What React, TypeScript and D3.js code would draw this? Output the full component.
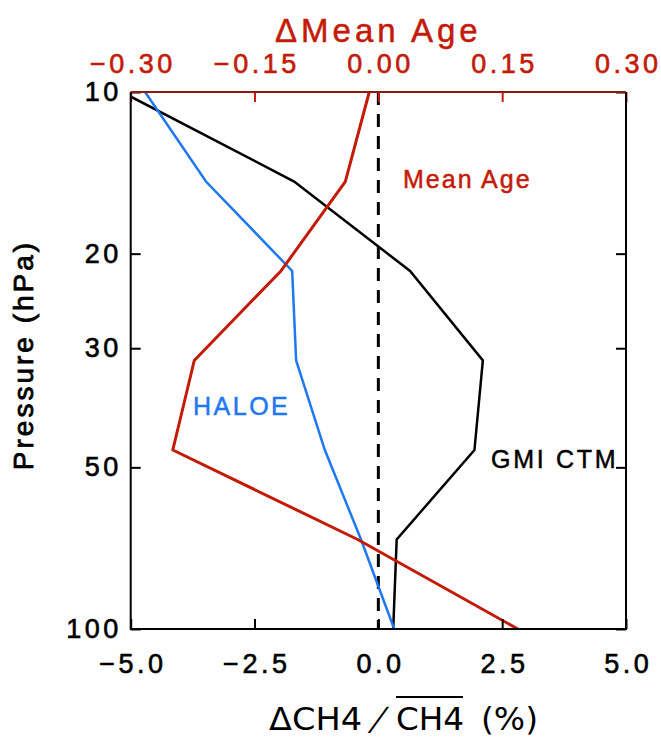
import React, { useRef, useEffect } from 'react';
import * as d3 from 'd3';

// pressure levels (hPa) and the three profiles
const levels = [10, 14.68, 21.54, 31.62, 46.42, 68.13, 100];
const gmiCtm = [-5.18, -1.70, 0.64, 2.11, 1.94, 0.37, 0.30];
const haloe = [-4.71, -3.48, -1.74, -1.66, -1.08, -0.35, 0.32];
const meanAge = [-0.011, -0.040, -0.118, -0.223, -0.249, -0.025, 0.169];

const pressureTicks = [10, 20, 30, 50, 100];
const ch4Ticks = [-5, -2.5, 0, 2.5, 5];
const ageTicks = [-0.3, -0.15, 0, 0.15, 0.3];

const W = 661, H = 739;
const left = 130.7, right = 626, top = 92, bottom = 629;
const RED = '#c41a08';
const BLUE = '#1f78f0';
const FONT = 'Liberation Sans, Arial, sans-serif';

export default function App() {
  const ref = useRef<SVGSVGElement>(null);

  useEffect(() => {
    const svg = d3.select(ref.current);
    svg.selectAll('*').remove();

    const x = d3.scaleLinear().domain([-5, 5]).range([left, right]);
    const xAge = d3.scaleLinear().domain([-0.3, 0.3]).range([left, right]);
    const y = d3.scaleLog().domain([10, 100]).range([top, bottom]);

    svg.append('clipPath').attr('id', 'plotclip')
      .append('rect').attr('x', left).attr('y', top - 1)
      .attr('width', right - left).attr('height', bottom - top + 1);

    const plot = svg.append('g').attr('clip-path', 'url(#plotclip)');

    // zero line
    plot.append('line')
      .attr('x1', x(0)).attr('x2', x(0)).attr('y1', top).attr('y2', bottom)
      .attr('stroke', '#000').attr('stroke-width', 3).attr('stroke-dasharray', '13,9');

    const lineCh4 = d3.line<number>().x(d => x(d)).y((d, i) => y(levels[i]));
    const lineAge = d3.line<number>().x(d => xAge(d)).y((d, i) => y(levels[i]));

    plot.append('path').attr('d', lineCh4(gmiCtm)!)
      .attr('fill', 'none').attr('stroke', '#000').attr('stroke-width', 2.5);
    plot.append('path').attr('d', lineCh4(haloe)!)
      .attr('fill', 'none').attr('stroke', BLUE).attr('stroke-width', 2.5);
    plot.append('path').attr('d', lineAge(meanAge)!)
      .attr('fill', 'none').attr('stroke', RED).attr('stroke-width', 3)
      .attr('stroke-linejoin', 'round');

    // axes
    const styleAxis = (g: any, color: string) => {
      g.select('.domain').remove();
      g.selectAll('line').attr('stroke', color).attr('stroke-width', 2);
      g.selectAll('text').attr('fill', color).attr('stroke', color).attr('stroke-width', 0.6)
        .attr('font-size', 27).attr('font-family', FONT).attr('letter-spacing', 3.5);
    };

    svg.append('g').attr('transform', `translate(0,${bottom})`)
      .call(d3.axisBottom(x).tickValues(ch4Ticks).tickSize(-10).tickPadding(25).tickFormat(d3.format('.1f')) as any)
      .call((g: any) => styleAxis(g, '#000'))
      .call((g: any) => g.selectAll('text').attr('dx', 1.75));

    svg.append('g').attr('transform', `translate(0,${top})`)
      .call(d3.axisTop(xAge).tickValues(ageTicks).tickSize(-10).tickPadding(19).tickFormat(d3.format('.2f')) as any)
      .call((g: any) => styleAxis(g, RED))
      .call((g: any) => g.selectAll('text').attr('dx', 1.75));

    svg.append('g').attr('transform', `translate(${left},0)`)
      .call(d3.axisLeft(y).tickValues(pressureTicks).tickSize(-10).tickPadding(9).tickFormat(d3.format('d')) as any)
      .call((g: any) => styleAxis(g, '#000'));

    svg.append('g').attr('transform', `translate(${right},0)`)
      .call(d3.axisRight(y).tickValues(pressureTicks).tickSize(-10).tickFormat(() => '') as any)
      .call((g: any) => styleAxis(g, '#000'));

    // frame
    svg.append('path')
      .attr('d', `M${left},${top}V${bottom}H${right}V${top}`)
      .attr('fill', 'none').attr('stroke', '#000').attr('stroke-width', 2);
    svg.append('line').attr('x1', left).attr('x2', right).attr('y1', top).attr('y2', top)
      .attr('stroke', '#8b1a10').attr('stroke-width', 2);

    // titles
    svg.append('text').attr('x', x(0)).attr('y', 42).attr('text-anchor', 'middle')
      .attr('fill', RED).attr('stroke', RED).attr('stroke-width', 0.5)
      .attr('font-size', 33).attr('font-family', FONT).attr('letter-spacing', 4)
      .text('\u0394Mean Age');

    svg.append('text').attr('transform', `translate(33,${355}) rotate(-90)`)
      .attr('text-anchor', 'middle').attr('fill', '#000').attr('stroke', '#000').attr('stroke-width', 0.8)
      .attr('font-size', 28).attr('font-family', FONT).attr('letter-spacing', 3)
      .text('Pressure (hPa)');

    // x label: ΔCH4 / overlined CH4 (%)
    const xlFont = 'DejaVu Sans Condensed, DejaVu Sans, sans-serif';
    const xlY = 730;
    const xlParts = [
      { t: '\u0394CH4', x0: 269, w: 93 },
      { t: 'CH4', x0: 396, w: 68 },
      { t: '(%)', x0: 481, w: 57 },
    ];
    svg.append('g').selectAll('text').data(xlParts).join('text')
      .attr('x', d => d.x0).attr('y', xlY)
      .attr('textLength', d => d.w).attr('lengthAdjust', 'spacingAndGlyphs')
      .attr('fill', '#000').attr('font-size', 32).attr('font-family', xlFont)
      .text(d => d.t);
    svg.append('g').attr('transform', `translate(369,${xlY}) skewX(-24)`)
      .append('text').attr('x', 0).attr('y', 0)
      .attr('fill', '#000').attr('font-size', 32).attr('font-family', xlFont)
      .text('/');
    svg.append('line').attr('x1', 396).attr('x2', 463).attr('y1', 697).attr('y2', 697)
      .attr('stroke', '#000').attr('stroke-width', 2);

    // series labels
    svg.append('text').attr('x', 403).attr('y', 188).attr('fill', RED).attr('stroke', RED).attr('stroke-width', 0.5)
      .attr('font-size', 25).attr('font-family', FONT).attr('letter-spacing', 2).text('Mean Age');
    svg.append('text').attr('x', 193).attr('y', 415).attr('fill', BLUE).attr('stroke', BLUE).attr('stroke-width', 0.5)
      .attr('font-size', 25).attr('font-family', FONT).attr('letter-spacing', 2.5).text('HALOE');
    svg.append('text').attr('x', 491).attr('y', 468).attr('fill', '#000').attr('stroke', '#000').attr('stroke-width', 0.5)
      .attr('font-size', 25).attr('font-family', FONT).attr('letter-spacing', 2.7).text('GMI CTM');
  }, []);

  return (
    <svg ref={ref} width={W} height={H}
      style={{ position: 'absolute', left: 0, top: 0, background: '#fff' }} />
  );
}
